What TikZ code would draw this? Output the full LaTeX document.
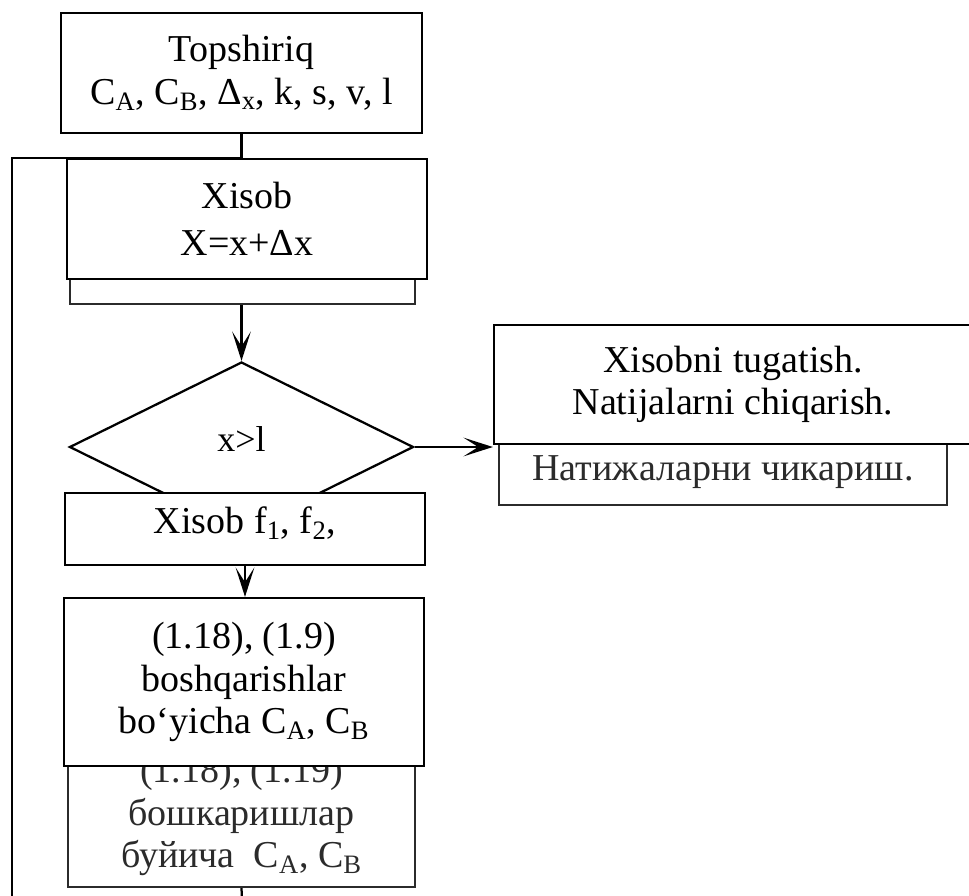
\documentclass[tikz,border=0pt]{standalone}
\usepackage{fontspec}
\setmainfont{Liberation Serif}
\usetikzlibrary{shapes.geometric, arrows.meta, positioning, calc}
\definecolor{inkcol}{HTML}{000000}
\definecolor{scancol}{HTML}{2B2B2B}

\begin{document}
\begin{tikzpicture}[
  x=0.75pt, y=-0.75pt,
  every node/.style={font=\fontsize{28.5}{32}\selectfont},
  blk/.style={rectangle, draw=inkcol, fill=white, line width=1.7pt,
              align=center, inner sep=0pt, minimum width=#1},
  oldblk/.style={rectangle, draw=scancol, fill=white, line width=1.7pt,
                 text=scancol, align=center, inner sep=0pt, minimum width=#1},
  dec/.style={diamond, draw=inkcol, fill=white, line width=1.7pt, inner sep=0pt,
              minimum width=258pt, minimum height=127.5pt},
  flow/.style={draw=inkcol, line width=1.7pt,
               -{Stealth[length=22pt, width=14pt, inset=11pt]}},
  wire/.style={draw=inkcol, line width=1.7pt},
]
  \useasboundingbox (0,0) rectangle (969,895);

  % scanned boxes underneath
  \node[oldblk=258.75pt, minimum height=40.5pt] (oldcalc) at (242.5,277) {};
  \node[oldblk=336pt, minimum height=48.75pt] (oldout) at (723,472.5)
    {\raisebox{-7pt}{Натижаларни чикариш.}};
  \node[oldblk=260.25pt, minimum height=106.5pt] (oldctrl) at (241.5,816)
    {(1.18), (1.19)\\бошкаришлар\\буйича\ \ C\textsubscript{A}, C\textsubscript{B}};

  % blocks
  \node[blk=270.75pt, minimum height=90pt] (task) at (241.5,73)
    {Topshiriq\\C\textsubscript{A}, C\textsubscript{B}, Δ\textsubscript{x}, k, s, v, l};
  \node[blk=270pt, minimum height=90pt] (calc) at (247,219)
    {\raisebox{3pt}{Xisob}\\X=x+Δx};
  \node[dec] (test) at (241.5,447) {\raisebox{12pt}{\fontsize{27}{30}\selectfont x>l}};
  \node[blk=358.5pt, minimum height=89.25pt] (out) at (733,384.5)
    {Xisobni tugatish.\\Natijalarni chiqarish.};
  \node[blk=270pt, minimum height=54pt] (fcalc) at (245,529)
    {\raisebox{13pt}{Xisob f\textsubscript{1}, f\textsubscript{2},}};
  \node[blk=270pt, minimum height=126pt] (ctrl) at (244,682)
    {(1.18), (1.9)\\boshqarishlar\\bo‘yicha C\textsubscript{A}, C\textsubscript{B}};

  % connectors
  \coordinate (loop) at (12,158);
  \coordinate (loopend) at (12,900);
  \coordinate (exit) at (242,900);
  \draw[wire] (task.south) -- (task.south |- calc.north);
  \draw[wire] (loopend) -- (loop) -- (loop -| task.south);
  \draw[flow] (test.north |- oldcalc.south) -- (test.north);
  \draw[flow] (test.east) -- (test.east -| out.west);
  \draw[flow] (fcalc.south) -- (fcalc.south |- ctrl.north);
  \draw[wire] (oldctrl.south) -- (exit);
\end{tikzpicture}
\end{document}
